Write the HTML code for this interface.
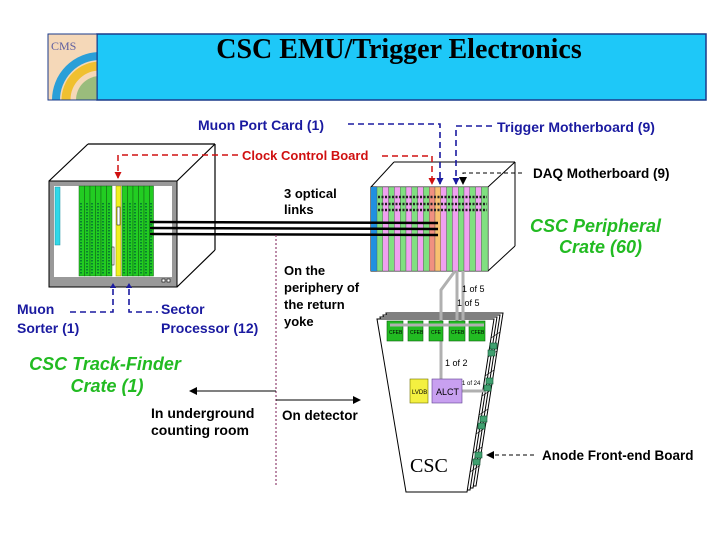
<!DOCTYPE html>
<html><head><meta charset="utf-8"><style>
html,body{margin:0;padding:0;background:#fff;}
svg{display:block;}
</style></head><body>
<svg width="720" height="540" viewBox="0 0 720 540" xmlns="http://www.w3.org/2000/svg" font-family="Liberation Sans, sans-serif">
<defs>
<marker id="ar" markerWidth="8" markerHeight="8" refX="7" refY="4" orient="auto" markerUnits="userSpaceOnUse"><path d="M0,0 L8,4 L0,8 z" fill="#000"/></marker>
<marker id="ab" markerWidth="7" markerHeight="7" refX="6" refY="3.5" orient="auto" markerUnits="userSpaceOnUse"><path d="M0,0 L7,3.5 L0,7 z" fill="#1a1aa0"/></marker>
<marker id="ard" markerWidth="7" markerHeight="7" refX="6" refY="3.5" orient="auto" markerUnits="userSpaceOnUse"><path d="M0,0 L7,3.5 L0,7 z" fill="#d01010"/></marker>
<clipPath id="lc"><rect x="48" y="34" width="49" height="66"/></clipPath>
</defs>
<!-- title -->
<rect x="97" y="34" width="609" height="66" fill="#1ec8f8" stroke="#1a3a8a" stroke-width="1.5"/>
<g clip-path="url(#lc)">
<rect x="48" y="34" width="49" height="66" fill="#f5d8b8"/>
<circle cx="100" cy="100" r="44" fill="none" stroke="#2a9fd8" stroke-width="8"/>
<circle cx="100" cy="100" r="34" fill="none" stroke="#f0c030" stroke-width="9"/>
<circle cx="100" cy="100" r="24" fill="#40a040" opacity="0.5"/>
</g>
<rect x="48" y="34" width="49" height="66" fill="none" stroke="#1a3a8a" stroke-width="1"/>
<text x="51" y="50" style="font-family:'Liberation Serif',serif" font-size="12" fill="#6060a0">CMS</text>
<text x="399" y="58" text-anchor="middle" style="font-family:'Liberation Serif',serif" font-weight="bold" font-size="28" fill="#000">CSC EMU/Trigger Electronics</text>

<!-- left crate -->
<g stroke="#000" stroke-width="1.2" fill="none">
<line x1="49" y1="181" x2="88" y2="144"/><line x1="88" y1="144" x2="215" y2="144"/>
<line x1="215" y1="144" x2="215" y2="250"/><line x1="177" y1="181" x2="215" y2="144"/>
<line x1="177" y1="287" x2="215" y2="250"/>
</g>
<rect x="49" y="181" width="128" height="106" fill="#999" stroke="#000"/>
<rect x="54" y="186" width="118" height="91" fill="#fff"/>
<rect x="55" y="187" width="5" height="58" fill="#30d8e8" stroke="#1890a0" stroke-width="0.5"/>
<g fill="#22cc22" stroke="#106010" stroke-width="0.5">
<rect x="79" y="186" width="5.5" height="90"/><rect x="84.5" y="186" width="5.5" height="90"/><rect x="90" y="186" width="5.5" height="90"/><rect x="95.5" y="186" width="5.5" height="90"/><rect x="101" y="186" width="5.5" height="90"/><rect x="106.5" y="186" width="5.5" height="90"/>
<rect x="122" y="186" width="5.5" height="90"/><rect x="127.5" y="186" width="5.5" height="90"/><rect x="133" y="186" width="5.5" height="90"/><rect x="138.5" y="186" width="5.5" height="90"/><rect x="144" y="186" width="5.5" height="90"/><rect x="149.5" y="186" width="4" height="90"/>
</g>
<rect x="116" y="186" width="5" height="90" fill="#f0f020" stroke="#909000" stroke-width="0.5"/>
<rect x="117" y="207" width="3" height="18" fill="#fff" stroke="#000" stroke-width="0.5"/>
<rect x="112" y="247" width="2" height="18" fill="#fff" stroke="#000" stroke-width="0.5"/>
<g stroke="#063" stroke-width="1.5" stroke-dasharray="1.5 1.5">
<line x1="81" y1="203" x2="81" y2="274"/><line x1="87" y1="203" x2="87" y2="274"/><line x1="92" y1="203" x2="92" y2="274"/><line x1="98" y1="203" x2="98" y2="274"/><line x1="103" y1="203" x2="103" y2="274"/><line x1="109" y1="203" x2="109" y2="274"/>
<line x1="124" y1="203" x2="124" y2="274"/><line x1="130" y1="203" x2="130" y2="274"/><line x1="135" y1="203" x2="135" y2="274"/><line x1="141" y1="203" x2="141" y2="274"/><line x1="146" y1="203" x2="146" y2="274"/><line x1="151" y1="203" x2="151" y2="274"/>
</g>
<rect x="162" y="279" width="3" height="3" fill="#fff" stroke="#000" stroke-width="0.6"/><rect x="167" y="279" width="3" height="3" fill="#fff" stroke="#000" stroke-width="0.6"/>

<!-- peripheral crate -->
<g stroke="#000" stroke-width="1" fill="none">
<line x1="371" y1="187" x2="394" y2="162"/><line x1="394" y1="162" x2="515" y2="162"/>
<line x1="515" y1="162" x2="515" y2="246"/><line x1="488" y1="187" x2="515" y2="162"/>
<line x1="488" y1="271" x2="515" y2="246"/>
</g>
<rect x="371" y="187" width="117" height="84" fill="#fff" stroke="#000"/>
<rect x="371" y="187" width="6" height="84" fill="#2090e0"/>
<g stroke="#555" stroke-width="0.4">
<rect x="377" y="187" width="5.8" height="84" fill="#80e080"/><rect x="382.8" y="187" width="5.8" height="84" fill="#f0a0f0"/>
<rect x="388.6" y="187" width="5.8" height="84" fill="#80e080"/><rect x="394.4" y="187" width="5.8" height="84" fill="#f0a0f0"/>
<rect x="400.2" y="187" width="5.8" height="84" fill="#80e080"/><rect x="406" y="187" width="5.8" height="84" fill="#f0a0f0"/>
<rect x="411.8" y="187" width="5.8" height="84" fill="#80e080"/><rect x="417.6" y="187" width="5.8" height="84" fill="#f0a0f0"/>
<rect x="423.4" y="187" width="5.8" height="84" fill="#80e080"/><rect x="429.2" y="187" width="5.8" height="84" fill="#f09080"/>
<rect x="435" y="187" width="5.8" height="84" fill="#f8c070"/><rect x="440.8" y="187" width="5.8" height="84" fill="#f0a0f0"/>
<rect x="446.6" y="187" width="5.8" height="84" fill="#80e080"/><rect x="452.4" y="187" width="5.8" height="84" fill="#f0a0f0"/>
<rect x="458.2" y="187" width="5.8" height="84" fill="#80e080"/><rect x="464" y="187" width="5.8" height="84" fill="#f0a0f0"/>
<rect x="469.8" y="187" width="5.8" height="84" fill="#80e080"/><rect x="475.6" y="187" width="5.8" height="84" fill="#f0a0f0"/>
<rect x="481.4" y="187" width="6.6" height="84" fill="#80e080"/>
</g>
<g stroke="#222" stroke-width="2.5" stroke-dasharray="2 1.5">
<line x1="378" y1="197" x2="487" y2="197"/><line x1="378" y1="204" x2="487" y2="204"/><line x1="378" y1="210" x2="487" y2="210"/>
</g>

<!-- optical links -->
<g stroke="#000" stroke-width="2.5">
<line x1="150" y1="222" x2="438" y2="223"/><line x1="150" y1="228" x2="438" y2="229"/><line x1="150" y1="234" x2="438" y2="235"/>
</g>

<!-- red CCB -->
<g stroke="#d01010" stroke-width="1.5" stroke-dasharray="6 4" fill="none">
<polyline points="238,155 118,155 118,178" marker-end="url(#ard)"/>
<polyline points="382,156 432,156 432,184" marker-end="url(#ard)"/>
</g>
<text x="242" y="160" font-size="13" font-weight="bold" fill="#d01010">Clock Control Board</text>

<!-- blue dashed -->
<g stroke="#1a1aa0" stroke-width="1.6" stroke-dasharray="6 4" fill="none">
<polyline points="348,124 440,124 440,184" marker-end="url(#ab)"/>
<polyline points="492,126 456,126 456,184" marker-end="url(#ab)"/>
<polyline points="113,289 113,312 70,312"/>
<polyline points="129,289 129,312 158,312"/>
</g>
<polygon points="110,288 116,288 113,283" fill="#1a1aa0"/><polygon points="126,288 132,288 129,283" fill="#1a1aa0"/>
<g font-size="14" font-weight="bold" fill="#1a1aa0">
<text x="198" y="130">Muon Port Card (1)</text>
<text x="497" y="132">Trigger Motherboard (9)</text>
<text x="17" y="314">Muon</text>
<text x="17" y="333">Sorter (1)</text>
<text x="161" y="314">Sector</text>
<text x="161" y="333">Processor (12)</text>
</g>

<!-- DAQ -->
<polyline points="522,173 463,173 463,184" stroke="#000" stroke-width="1" stroke-dasharray="4 3" fill="none" marker-end="url(#ar)"/>
<text x="533" y="178" font-size="13.5" font-weight="bold" fill="#000">DAQ Motherboard (9)</text>

<text x="530" y="232" font-size="18" font-weight="bold" font-style="italic" fill="#22bb22">CSC Peripheral</text>
<text x="559" y="253" font-size="18" font-weight="bold" font-style="italic" fill="#22bb22">Crate (60)</text>

<!-- dotted divider -->
<line x1="276" y1="235" x2="276" y2="486" stroke="#904070" stroke-width="1.2" stroke-dasharray="2 2"/>
<g font-size="13" font-weight="bold" fill="#000">
<text x="284" y="198">3 optical</text>
<text x="284" y="214">links</text>
<text x="284" y="275">On the</text>
<text x="284" y="292">periphery of</text>
<text x="284" y="309">the return</text>
<text x="284" y="326">yoke</text>
</g>

<text x="105" y="370" text-anchor="middle" font-size="18" font-weight="bold" font-style="italic" fill="#22bb22">CSC Track-Finder</text>
<text x="107" y="392" text-anchor="middle" font-size="18" font-weight="bold" font-style="italic" fill="#22bb22">Crate (1)</text>
<line x1="276" y1="391" x2="190" y2="391" stroke="#000" stroke-width="1" marker-end="url(#ar)"/>
<line x1="276" y1="400" x2="360" y2="400" stroke="#000" stroke-width="1" marker-end="url(#ar)"/>
<text x="151" y="418" font-size="14" font-weight="bold" fill="#000">In underground</text>
<text x="151" y="435" font-size="14" font-weight="bold" fill="#000">counting room</text>
<text x="282" y="420" font-size="13.5" font-weight="bold" fill="#000">On detector</text>

<!-- chamber -->
<g fill="#fff" stroke="#000" stroke-width="1">
<polygon points="386,313 503,313 476,486 415,486"/>
<polygon points="383,315 500,315 473,488 412,488"/>
<polygon points="380,317 497,317 470,490 409,490"/>
<polygon points="377,319 494,319 467,492 406,492"/>
</g>
<g stroke="#000" stroke-width="0.6">
<line x1="491" y1="338" x2="500" y2="332"/><line x1="488" y1="357" x2="497" y2="351"/><line x1="485" y1="376" x2="494" y2="370"/><line x1="482" y1="396" x2="491" y2="390"/><line x1="479" y1="415" x2="488" y2="409"/><line x1="476" y1="434" x2="485" y2="428"/><line x1="473" y1="453" x2="482" y2="447"/><line x1="470" y1="472" x2="479" y2="466"/>
</g>
<!-- grey lines -->
<g stroke="#b0b0b0" stroke-width="3" fill="none">
<line x1="457" y1="271" x2="457" y2="330"/><line x1="463" y1="271" x2="463" y2="330"/>
<polyline points="455,271 441,290 441,380"/>
<line x1="462" y1="391" x2="486" y2="391"/>
</g>
<g fill="#22bb22" stroke="#106010" stroke-width="0.6">
<rect x="387" y="321" width="16" height="20"/><rect x="408" y="321" width="15" height="20"/><rect x="429" y="321" width="14" height="20"/><rect x="449" y="321" width="16" height="20"/><rect x="469" y="321" width="16" height="20"/>
</g>
<g stroke="#b0b0b0" stroke-width="3"><line x1="390" y1="325" x2="484" y2="325"/></g>
<g font-size="5" fill="#000"><text x="389" y="334">CFEB</text><text x="410" y="334">CFEB</text><text x="431" y="334">CFE</text><text x="451" y="334">CFEB</text><text x="471" y="334">CFEB</text></g>
<g fill="#40a070" stroke="#105030" stroke-width="0.6">
<rect x="490" y="343" width="7" height="6"/><rect x="488" y="350" width="7" height="6"/>
<rect x="486" y="378" width="7" height="6"/><rect x="484" y="385" width="7" height="6"/>
<rect x="480" y="416" width="7" height="6"/><rect x="478" y="423" width="7" height="6"/>
<rect x="475" y="452" width="7" height="6"/><rect x="473" y="459" width="7" height="6"/>
</g>
<rect x="410" y="379" width="18" height="24" fill="#f4f040" stroke="#707000" stroke-width="0.6"/>
<text x="412" y="394" font-size="6" fill="#000">LVDB</text>
<rect x="432" y="379" width="30" height="24" fill="#c8a0f0" stroke="#604090" stroke-width="0.6"/>
<text x="436" y="395" font-size="9" fill="#000">ALCT</text>
<text x="462" y="292" font-size="9" fill="#000">1 of 5</text>
<text x="457" y="306" font-size="9" fill="#000">1 of 5</text>
<text x="445" y="366" font-size="9" fill="#000">1 of 2</text>
<text x="462" y="385" font-size="6" fill="#000">1 of 24</text>
<text x="410" y="472" style="font-family:'Liberation Serif',serif" font-size="20" fill="#000">CSC</text>

<line x1="534" y1="455" x2="487" y2="455" stroke="#000" stroke-width="1" stroke-dasharray="4 3" marker-end="url(#ar)"/>
<text x="542" y="460" font-size="13.5" font-weight="bold" fill="#000">Anode Front-end Board</text>
</svg>
</body></html>
